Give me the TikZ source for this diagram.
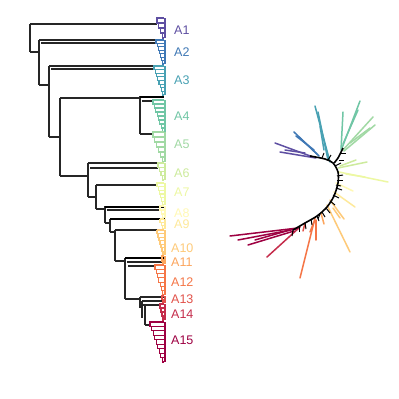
\documentclass[tikz,border=0pt]{standalone}
\usepackage{fontspec}
\setmainfont{Liberation Sans}
\definecolor{cA1}{HTML}{5E4FA2}
\definecolor{cA2}{HTML}{3F78B5}
\definecolor{cA3}{HTML}{48A1B3}
\definecolor{cA4}{HTML}{70C6A5}
\definecolor{cA5}{HTML}{A1D9A4}
\definecolor{cA6}{HTML}{CDEB9D}
\definecolor{cA7}{HTML}{EDF8A3}
\definecolor{cA8}{HTML}{FFF9B5}
\definecolor{cA9}{HTML}{FEE99A}
\definecolor{cA10}{HTML}{FECA79}
\definecolor{cA11}{HTML}{FCA55D}
\definecolor{cA12}{HTML}{F57647}
\definecolor{cA13}{HTML}{E2524A}
\definecolor{cA14}{HTML}{C52C4B}
\definecolor{cA15}{HTML}{9E0142}
\newcommand\myclade[6]{% color, x0, ytop, ybot, n, stem y
  \begin{scope}[draw=#1, line width=1.1pt]
  \draw (#2,#6) -- (#2,#3) -- (164,#3);
  \foreach \k in {1,...,#5}{
    \pgfmathsetmacro\ya{#3+(#4-#3)*(\k-1)/#5}
    \pgfmathsetmacro\yb{#3+(#4-#3)*\k/#5}
    \pgfmathsetmacro\xa{#2+(164-#2)*(\k-1)/#5}
    \draw (\xa,\ya) -- (\xa,\yb) -- (164,\yb);
  }
  \draw[line width=2pt] (164.5,#3) -- (164.5,#4);
  \end{scope}}
\tikzset{
  bb/.style={line width=1.3pt, black!85},
  lab/.style={anchor=west, font=\fontsize{12.5}{12.5}\selectfont, inner sep=0pt},
  rb/.style={line width=1.5pt, line cap=round},
}
\begin{document}
\begin{tikzpicture}[x=1pt,y=-1pt]
\useasboundingbox[fill=white] (0,0) rectangle (399,399);
% ---------- left tree backbone ----------
\draw[bb] (30,24) -- (30,52);
\draw[bb] (30,24) -- (157,24);
\draw[bb] (30,52) -- (39,52);
\draw[bb] (39,40) -- (39,85);
\draw[bb] (39,40) -- (156,40);
\draw[bb] (41,43) -- (156,43);
\draw[bb] (39,85) -- (49,85);
\draw[bb] (49,66) -- (49,137);
\draw[bb] (49,66) -- (154,66);
\draw[bb] (51,69) -- (154,69);
\draw[bb] (49,137) -- (60,137);
\draw[bb] (60,98) -- (60,176);
\draw[bb] (60,98) -- (140,98);
\draw[bb] (60,176) -- (88,176);
\draw[bb] (140,96) -- (140,134);
\draw[line width=2.4pt,black] (140,97) -- (164,97);
\draw[bb] (143,100) -- (143,101) -- (153,101);
\draw[bb] (140,134) -- (153,134);
\draw[bb] (88,163) -- (88,197);
\draw[bb] (88,163) -- (158,163);
\draw[bb] (90,168) -- (158,168);
\draw[bb] (88,197) -- (96,197);
\draw[bb] (96,185) -- (96,209);
\draw[bb] (96,185) -- (157,185);
\draw[bb] (96,209) -- (105,209);
\draw[bb] (105,206) -- (105,223);
\draw[line width=2.4pt,black] (105,207) -- (165,207);
\draw[bb] (107,210) -- (165,210);
\draw[bb] (105,223) -- (110,223);
\draw[bb] (110,219) -- (110,232);
\draw[line width=1.8pt,black] (110,219) -- (165,219);
\draw[bb] (110,232) -- (115,232);
\draw[bb] (115,230) -- (115,261);
\draw[bb] (115,230) -- (157,230);
\draw[bb] (115,261) -- (125,261);
\draw[bb] (125,258) -- (125,299);
\draw[line width=1.8pt,black] (125,258) -- (165,258);
\draw[bb] (127,262) -- (165,262);
\draw[bb] (128,266) -- (155,266);
\draw[bb] (125,299) -- (140,299);
\draw[bb] (140,297) -- (140,308);
\draw[bb] (140,297) -- (165,297);
\draw[bb] (142,301) -- (165,301);
\draw[bb] (142,301) -- (142,318);
\draw[bb] (143,305) -- (160,305);
\draw[bb] (145,305) -- (145,325);
\draw[bb] (145,325) -- (150,325);
% ---------- clades ----------
\myclade{cA1}{157}{18}{38}{4}{24}
\myclade{cA2}{156}{40}{64}{7}{43}
\myclade{cA3}{154}{66}{95}{8}{69}
\myclade{cA4}{153}{100}{132}{8}{101}
\myclade{cA5}{153}{132}{162}{6}{134}
\myclade{cA6}{158}{163}{180}{4}{168}
\myclade{cA7}{157}{183}{205}{6}{185}
\myclade{cA8}{160}{206}{218}{3}{210}
\myclade{cA9}{160}{219}{229}{3}{219}
\myclade{cA10}{157}{230}{255}{7}{230}
\myclade{cA11}{162}{256}{264}{2}{262}
\myclade{cA12}{155}{265}{295}{7}{266}
\myclade{cA13}{162}{296}{303}{2}{297}
\myclade{cA14}{160}{304}{320}{4}{305}
\myclade{cA15}{150}{322}{362}{9}{325}
% ---------- labels ----------
\node[lab, text=cA1]  (l1)  at (174,30)  {A1};
\node[lab, text=cA2]  (l2)  at (174,52)  {A2};
\node[lab, text=cA3]  (l3)  at (174,80)  {A3};
\node[lab, text=cA4]  (l4)  at (174,116) {A4};
\node[lab, text=cA5]  (l5)  at (174,144) {A5};
\node[lab, text=cA6]  (l6)  at (174,173) {A6};
\node[lab, text=cA7]  (l7)  at (174,192) {A7};
\node[lab, text=cA8]  (l8)  at (174,213) {A8};
\node[lab, text=cA9]  (l9)  at (174,224) {A9};
\node[lab, text=cA10] (l10) at (171,248) {A10};
\node[lab, text=cA11] (l11) at (171,262) {A11};
\node[lab, text=cA12] (l12) at (171,282) {A12};
\node[lab, text=cA13] (l13) at (171,299) {A13};
\node[lab, text=cA14] (l14) at (171,314) {A14};
\node[lab, text=cA15] (l15) at (171,340) {A15};
% ---------- unrooted tree ----------
\draw[rb,cA1] (313,157) -- (275,143);
\draw[rb,cA1] (316,158) -- (280,152);
\draw[rb,cA1] (305,153) -- (285,150);
\draw[rb,cA2] (319,156) -- (294,132);
\draw[rb,cA2] (314,150) -- (296,136);
\draw[rb,cA2] (317,154) -- (300,138);
\draw[rb,cA3] (330,162) -- (315,106);
\draw[rb,cA3] (328,160) -- (318,112);
\draw[rb,cA3] (324,150) -- (320,126);
\draw[rb,cA4] (342,148) -- (360,101);
\draw[rb,cA4] (341,150) -- (343,112);
\draw[rb,cA4] (343,144) -- (358,110);
\draw[rb,cA5] (343,150) -- (373,117);
\draw[rb,cA5] (344,151) -- (375,125);
\draw[rb,cA5] (350,143) -- (370,128);
\draw[rb,cA6] (338,168) -- (367,162);
\draw[rb,cA6] (340,166) -- (356,160);
\draw[rb,cA7] (339,172) -- (388,182);
\draw[rb,cA7] (346,174) -- (365,177);
\draw[rb,cA8] (336,183) -- (353,191);
\draw[rb,cA9] (334,192) -- (355,207);
\draw[rb,cA10] (327,205) -- (350,252);
\draw[rb,cA10] (330,200) -- (344,219);
\draw[rb,cA10] (333,208) -- (340,218);
\draw[rb,cA11] (321,213) -- (324,224);
\draw[rb,cA12] (315,218) -- (300,278);
\draw[rb,cA12] (316,220) -- (316,240);
\draw[rb,cA12] (314,222) -- (310,232);
\draw[rb,cA13] (305,223) -- (303,231);
\draw[rb,cA14] (300,227) -- (267,257);
\draw[rb,cA15] (298,228) -- (230,236);
\draw[rb,cA15] (296,229) -- (238,240);
\draw[rb,cA15] (294,231) -- (248,245);
\draw[rb,cA15] (290,230) -- (255,240);
% backbone arc
\draw[line width=1.6pt, black] plot[smooth] coordinates {(310,156) (325,159) (333,163) (338,172) (338,183) (334,196) (327,207) (317,216) (305,223) (293,230)};
\draw[line width=1.6pt, black] plot[smooth] coordinates {(334,163) (338,158) (343,148)};
\foreach \px/\py/\qx/\qy in {
  322/158/324/153, 328/160/331/155, 335/166/341/163, 337/176/343/175,
  337/180/343/180, 336/188/342/190, 333/195/339/198, 330/201/335/205,
  326/208/330/213, 322/212/325/217, 317/216/319/221, 311/219/312/225,
  305/223/306/229, 299/226/299/232, 293/230/292/236, 339/160/344/160,
  341/153/346/153, 336/185/341/186, 320/214/318/219}{
  \draw[line width=1pt, black] (\px,\py) -- (\qx,\qy);
}
\end{tikzpicture}
\end{document}
